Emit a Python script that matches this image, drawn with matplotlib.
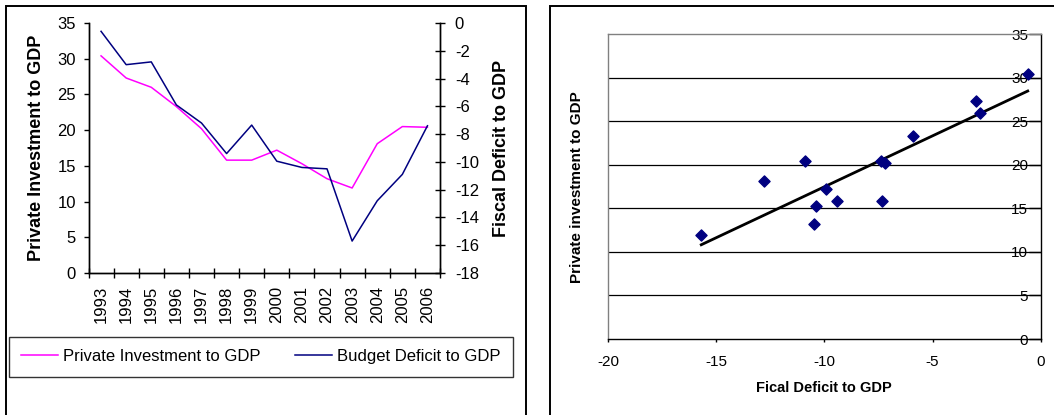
import matplotlib.pyplot as plt
import numpy as np
from matplotlib.patches import Rectangle

plt.rcParams['font.family'] = ['Liberation Sans', 'DejaVu Sans']
plt.rcParams['axes.unicode_minus'] = False

# Yearly ratios, 1993-2006
years = ['1993', '1994', '1995', '1996', '1997', '1998', '1999',
         '2000', '2001', '2002', '2003', '2004', '2005', '2006']
private_inv = [30.4, 27.3, 26.0, 23.3, 20.2, 15.8, 15.8,
               17.2, 15.3, 13.2, 11.9, 18.1, 20.5, 20.4]
fiscal_def = [-0.6, -3.0, -2.8, -5.9, -7.2, -9.4, -7.35,
              -9.95, -10.4, -10.5, -15.7, -12.8, -10.9, -7.4]

pink = '#ff00ff'
navy = '#000080'

W, H = 1054, 415
fig = plt.figure(figsize=(W / 100, H / 100), dpi=100)

# ---- left: time series on two y axes ----
ax = fig.add_axes([88.5 / W, 1 - 273 / H, (440 - 88.5) / W, (273 - 23) / H])
ax2 = ax.twinx()
x = np.arange(len(years))

l1, = ax.plot(x, private_inv, color=pink, lw=1.1)
l2, = ax2.plot(x, fiscal_def, color=navy, lw=1.1)

ax.set_xlim(-0.5, len(years) - 0.5)
ax.set_ylim(0, 35)
ax.set_yticks(range(0, 36, 5))
ax2.set_ylim(-18, 0)
ax2.set_yticks(range(-18, 1, 2))

ax.set_xticks(x)
ax.set_xticklabels(years, rotation=90, fontsize=12)
ax.set_xticks(np.arange(-0.5, len(years), 1), minor=True)
ax.tick_params(axis='x', which='major', length=0, pad=9)
ax.tick_params(axis='x', which='minor', direction='inout', length=7, width=1)
ax.tick_params(axis='y', direction='out', length=3.6, width=1, pad=5.4, labelsize=12)
ax2.tick_params(axis='y', direction='inout', length=7, width=1, pad=7.2, labelsize=12)

for a in (ax, ax2):
    a.spines['top'].set_visible(False)
    for s in a.spines.values():
        s.set_linewidth(1)

ax.set_ylabel('Private Investment to GDP', fontsize=13, fontweight='bold', labelpad=9)
ax2.set_ylabel('Fiscal Deficit to GDP', fontsize=13, fontweight='bold', labelpad=10)

leg = fig.legend([l1, l2], ['Private Investment to GDP', 'Budget Deficit to GDP'],
                 loc='center', mode='expand',
                 bbox_to_anchor=(8.5 / W, 1 - 379 / H, (513 - 8.5) / W, 45 / H),
                 ncol=2, fontsize=12, frameon=True, fancybox=False,
                 borderpad=0.75, borderaxespad=0, handlelength=2.2,
                 handletextpad=0.3, columnspacing=0.9)
leg.get_frame().set_edgecolor('black')
leg.get_frame().set_linewidth(1)

# ---- right: scatter with linear trend ----
bx = fig.add_axes([608.3 / W, 1 - 339 / H, (1040.7 - 608.3) / W, (339 - 34.3) / H])
bx.set_xlim(-20, 0)
bx.set_ylim(0, 35)
bx.set_xticks(range(-20, 1, 5))
bx.set_yticks(range(0, 36, 5))

for yv in range(5, 35, 5):
    bx.axhline(yv, color='black', lw=0.9, zorder=1)

bx.scatter(fiscal_def, private_inv, marker='D', s=32, color=navy, zorder=3)

slope, icept = np.polyfit(fiscal_def, private_inv, 1)
xs = np.array([min(fiscal_def), max(fiscal_def)])
bx.plot(xs, slope * xs + icept, color='black', lw=2, zorder=2)

bx.yaxis.tick_right()
bx.tick_params(axis='y', direction='in', length=8.5, width=1, pad=-9, labelsize=11)
for lbl in bx.get_yticklabels():
    lbl.set_horizontalalignment('right')
bx.tick_params(axis='x', direction='out', length=2.5, width=1, pad=9, labelsize=11)

bx.spines['top'].set_color('#808080')
bx.spines['left'].set_color('#808080')
bx.spines['right'].set_color('black')
bx.spines['bottom'].set_color('black')
for s in bx.spines.values():
    s.set_linewidth(1)

fig.text(577 / W, 1 - 187 / H, 'Private investment to GDP', rotation=90,
         ha='center', va='center', fontsize=11, fontweight='bold')
fig.text(824 / W, 1 - 388 / H, 'Fical Deficit to GDP',
         ha='center', va='center', fontsize=10.5, fontweight='bold')

# panel frames
fig.add_artist(Rectangle((6 / W, -0.1), (526 - 6) / W, 1.1 - 6.5 / H,
                         transform=fig.transFigure, fill=False,
                         ec='black', lw=1.4))
fig.add_artist(Rectangle((549.7 / W, -0.1), 1.0, 1.1 - 6.5 / H,
                         transform=fig.transFigure, fill=False,
                         ec='black', lw=1.4))

fig.savefig('out.png', dpi=100)
